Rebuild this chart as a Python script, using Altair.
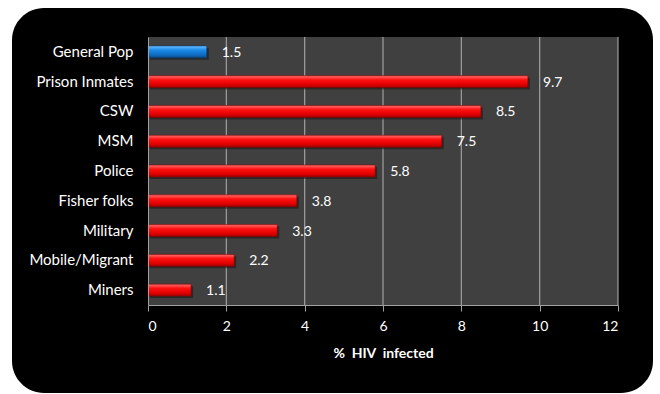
import altair as alt
import pandas as pd

categories = ["General Pop", "Prison Inmates", "CSW", "MSM", "Police",
              "Fisher folks", "Military", "Mobile/Migrant", "Miners"]
values = [1.5, 9.7, 8.5, 7.5, 5.8, 3.8, 3.3, 2.2, 1.1]
groups = ["general", "key", "key", "key", "key", "key", "key", "key", "key"]
x_ticks = [0, 2, 4, 6, 8, 10, 12]
x_title = "%\u00a0 HIV\u00a0 infected"

df = pd.DataFrame({"cat": categories, "val": values, "grp": groups})
grid_df = pd.DataFrame({"t": x_ticks[1:]})

FONT = "Lato"

red_grad = alt.Gradient(
    gradient="linear", x1=0, x2=0, y1=0, y2=1,
    stops=[alt.GradientStop(color="#ff7070", offset=0),
           alt.GradientStop(color="#ff1010", offset=0.35),
           alt.GradientStop(color="#e00000", offset=0.75),
           alt.GradientStop(color="#a00000", offset=1)])
blue_grad = alt.Gradient(
    gradient="linear", x1=0, x2=0, y1=0, y2=1,
    stops=[alt.GradientStop(color="#6ec0ff", offset=0),
           alt.GradientStop(color="#1a8ae8", offset=0.35),
           alt.GradientStop(color="#0f6cc0", offset=0.75),
           alt.GradientStop(color="#0a4a88", offset=1)])

xscale = alt.Scale(domain=[0, 12], nice=False)
x_enc = alt.X("val:Q", scale=xscale,
              axis=alt.Axis(values=x_ticks, title=x_title, grid=False,
                            titleFont=FONT, titleFontSize=14, titleFontWeight="bold",
                            titleColor="white", titlePadding=13,
                            labelFont=FONT, labelFontSize=14, labelColor="white",
                            labelPadding=8, tickColor="#a0a0a0", tickSize=6,
                            domainColor="#a0a0a0", zindex=1))
y_enc = alt.Y("cat:N", sort=categories,
              scale=alt.Scale(paddingInner=0.6, paddingOuter=0.3),
              axis=alt.Axis(title=None, labelFont=FONT, labelFontSize=15,
                            labelColor="white", ticks=False, labelPadding=15,
                            domainColor="#a0a0a0", grid=False, zindex=1))

dummy = pd.DataFrame({"a": [0]})
frame = alt.Chart(dummy).mark_rect(
    color="black", cornerRadius=32, clip=False
).encode(x=alt.value(-136), x2=alt.value(505), y=alt.value(-29), y2=alt.value(356))

plotbg = alt.Chart(dummy).mark_rect(color="#404040").encode(
    x=alt.value(0), x2=alt.value(470), y=alt.value(0), y2=alt.value(268))

grid = alt.Chart(grid_df).mark_rule(color="#a0a0a0", strokeWidth=1.2).encode(
    x=alt.X("t:Q", scale=xscale))

base = alt.Chart(df)

shadow = base.mark_bar(color="#1a1a1a", opacity=0.6, yOffset=2, xOffset=2).encode(
    x=x_enc, y=y_enc)

bars_key = base.transform_filter(alt.datum.grp == "key").mark_bar(
    color=red_grad, stroke="#8a0000", strokeWidth=0.6).encode(x=x_enc, y=y_enc)
bars_gen = base.transform_filter(alt.datum.grp == "general").mark_bar(
    color=blue_grad, stroke="#083e70", strokeWidth=0.6).encode(x=x_enc, y=y_enc)

labels = base.mark_text(align="left", baseline="middle", dx=15, dy=1,
                        color="white", font=FONT, fontSize=14).encode(
    x=x_enc, y=y_enc, text=alt.Text("val:Q", format=".1f"))

chart = alt.layer(frame, plotbg, grid, shadow, bars_key, bars_gen, labels).properties(
    width=470, height=268,
    autosize=alt.AutoSizeParams(type="none"),
    padding={"left": 148, "top": 37, "right": 42, "bottom": 89},
    background="white",
).configure_view(stroke=None)

chart.save("out.html", embed_options={"renderer": "svg", "actions": False})
